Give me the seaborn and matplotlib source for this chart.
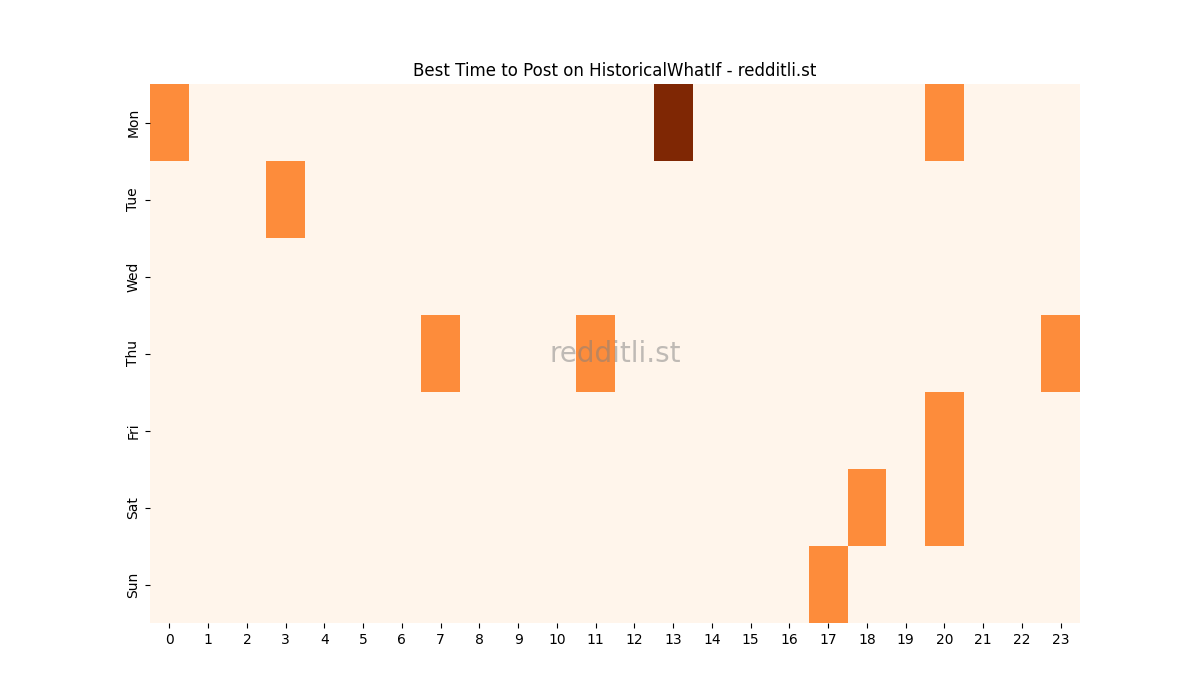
import matplotlib
matplotlib.use("Agg")
import matplotlib.pyplot as plt
import seaborn as sns
import pandas as pd

days = ["Mon", "Tue", "Wed", "Thu", "Fri", "Sat", "Sun"]
hours = list(range(24))
# (day, hour, value)
cells = [("Mon", 0, 1), ("Mon", 13, 2), ("Mon", 20, 1),
         ("Tue", 3, 1),
         ("Thu", 7, 1), ("Thu", 11, 1), ("Thu", 23, 1),
         ("Fri", 20, 1),
         ("Sat", 18, 1), ("Sat", 20, 1),
         ("Sun", 17, 1)]

df = pd.DataFrame(0, index=days, columns=hours)
for d, h, v in cells:
    df.loc[d, h] = v

fig, ax = plt.subplots(figsize=(12, 7), dpi=100)
sns.heatmap(df, cmap="Oranges", cbar=False, ax=ax, vmin=0, vmax=2)
ax.set_title("Best Time to Post on HistoricalWhatIf - redditli.st")
ax.text(0.5, 0.5, "redditli.st", transform=ax.transAxes, ha="center", va="center",
        fontsize=20, color="gray", alpha=0.5)
ax.set_xlabel("")
ax.set_ylabel("")
fig.savefig("out.png")
